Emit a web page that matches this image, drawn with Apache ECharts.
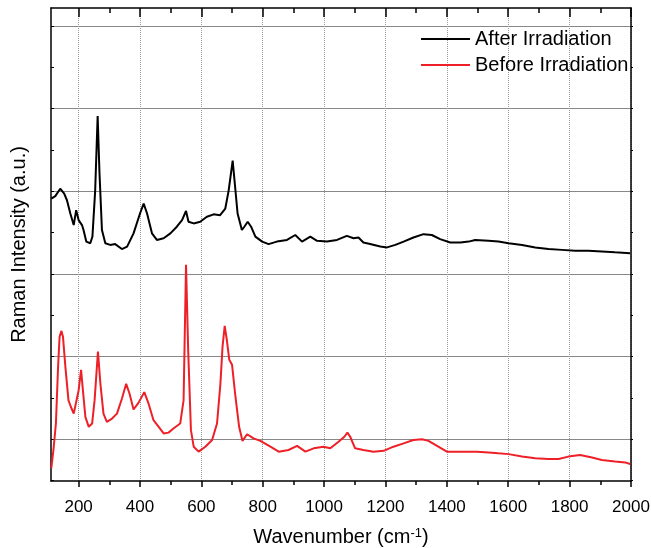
<!DOCTYPE html>
<html>
<head>
<meta charset="utf-8">
<script src="https://cdn.jsdelivr.net/npm/echarts@6/dist/echarts.min.js"></script>
<style>
    html, body { margin: 0; padding: 0; background: #fff; }
    #raman-chart { width: 651px; height: 548px; }
</style>
</head>
<body>
<div id="raman-chart"></div>
<script>
// =============================== //
//
// Raman spectra before / after irradiation
//
// =============================== //

// Series names
const seriesNames = ["After Irradiation", "Before Irradiation"];

// After irradiation: wavenumber (cm-1) and intensity (a.u.)
const afterWavenumber = [111, 124, 140, 153, 162, 173, 184, 192, 200, 211, 216, 225, 238, 245, 254, 262, 268, 276, 287, 303, 319, 341, 358, 379, 400, 412, 423, 439, 455, 477, 499, 520, 537, 550, 558, 575, 596, 618, 640, 661, 678, 689, 702, 710, 718, 732, 740, 751, 762, 776, 798, 819, 846, 879, 906, 928, 955, 977, 1009, 1042, 1074, 1096, 1112, 1128, 1150, 1183, 1205, 1232, 1259, 1291, 1324, 1351, 1378, 1411, 1444, 1471, 1492, 1536, 1568, 1601, 1645, 1688, 1731, 1775, 1818, 1861, 1905, 1948, 1997];
const afterIntensity = [2.91, 2.94, 3.03, 2.97, 2.89, 2.73, 2.59, 2.77, 2.65, 2.59, 2.53, 2.39, 2.37, 2.45, 3.01, 3.91, 3.22, 2.53, 2.37, 2.35, 2.36, 2.30, 2.33, 2.49, 2.73, 2.85, 2.73, 2.49, 2.41, 2.43, 2.49, 2.57, 2.65, 2.76, 2.63, 2.61, 2.63, 2.69, 2.72, 2.71, 2.79, 3.01, 3.37, 3.05, 2.73, 2.53, 2.57, 2.63, 2.57, 2.45, 2.39, 2.36, 2.39, 2.41, 2.47, 2.39, 2.45, 2.40, 2.39, 2.41, 2.46, 2.43, 2.44, 2.38, 2.36, 2.33, 2.32, 2.35, 2.39, 2.44, 2.48, 2.47, 2.42, 2.38, 2.38, 2.39, 2.41, 2.40, 2.39, 2.37, 2.35, 2.32, 2.30, 2.29, 2.28, 2.28, 2.27, 2.26, 2.25];

// Before irradiation: wavenumber (cm-1) and intensity (a.u.)
const beforeWavenumber = [111, 118, 126, 133, 138, 144, 149, 157, 167, 175, 184, 192, 200, 208, 214, 222, 233, 244, 252, 263, 271, 281, 292, 309, 325, 341, 355, 366, 379, 395, 414, 428, 444, 461, 477, 493, 509, 531, 542, 550, 557, 566, 575, 591, 613, 635, 651, 662, 669, 676, 683, 691, 700, 710, 723, 734, 749, 770, 792, 825, 852, 884, 912, 939, 966, 998, 1020, 1047, 1066, 1076, 1085, 1101, 1128, 1161, 1194, 1226, 1259, 1291, 1319, 1340, 1368, 1400, 1433, 1460, 1498, 1536, 1568, 1601, 1645, 1688, 1731, 1764, 1796, 1834, 1873, 1905, 1948, 1981, 1997];
const beforeIntensity = [-0.35, -0.13, 0.19, 0.87, 1.24, 1.31, 1.24, 0.87, 0.47, 0.39, 0.31, 0.45, 0.59, 0.84, 0.59, 0.27, 0.15, 0.19, 0.47, 1.06, 0.67, 0.31, 0.21, 0.25, 0.31, 0.49, 0.67, 0.55, 0.36, 0.44, 0.57, 0.43, 0.23, 0.15, 0.07, 0.08, 0.13, 0.19, 0.47, 2.11, 1.08, 0.11, -0.09, -0.15, -0.09, -0.01, 0.19, 0.67, 1.12, 1.37, 1.20, 0.96, 0.90, 0.55, 0.15, -0.02, 0.06, 0.01, -0.02, -0.09, -0.15, -0.13, -0.08, -0.15, -0.11, -0.09, -0.11, -0.03, 0.03, 0.08, 0.03, -0.11, -0.13, -0.15, -0.14, -0.09, -0.05, -0.01, 0.00, -0.02, -0.08, -0.15, -0.15, -0.15, -0.15, -0.16, -0.17, -0.18, -0.21, -0.23, -0.24, -0.24, -0.21, -0.19, -0.22, -0.25, -0.27, -0.28, -0.30];

// Tick positions
const xMajorTicks = [200, 400, 600, 800, 1000, 1200, 1400, 1600, 1800, 2000];
const xMinorTicks = [300, 500, 700, 900, 1100, 1300, 1500, 1700, 1900];
const yMajorTicks = [0, 1, 2, 3, 4, 5];
const yAllTicks = [-0.5, 0, 0.5, 1, 1.5, 2, 2.5, 3, 3.5, 4, 4.5, 5];

// Pair up x and y arrays for echarts
function zip(xs, ys) {
    return xs.map((x, i) => [x, ys[i]]);
};

const fontName = "'Liberation Sans', Arial, sans-serif";
const xMin = 110;
const xMax = 2000;
const yMin = -0.505;
const yMax = 5.215;

// Helper for extra tick-only x axes
function tickAxis(extra) {
    return Object.assign({
        type: "value",
        min: xMin,
        max: xMax,
        axisLine: { show: false, onZero: false },
        axisLabel: { show: false },
        splitLine: { show: false },
    }, extra);
};

const chartElement = document.getElementById("raman-chart");
const chart = echarts.init(chartElement, null, { renderer: "canvas" });

let option = {
    animation: false,
    textStyle: { fontFamily: fontName },

    // GRID (fixed box, no auto shrinking for names)
    grid: {
        left: 51,
        right: 20,
        top: 8,
        bottom: 67,
        containLabel: false,
        outerBoundsMode: "none",
    },

    // LEGEND
    legend: {
        data: seriesNames,
        orient: "vertical",
        left: 416,
        top: 24,
        icon: "rect",
        itemWidth: 49,
        itemHeight: 2,
        itemGap: 6,
        itemTextGap: 10,
        selectedMode: false,
        textStyle: { fontSize: 20, lineHeight: 20, color: "#000", fontFamily: fontName },
    },

    // XAXIS (bottom main, bottom minor, top main, top minor)
    xAxis: [
        {
            type: "value",
            min: xMin,
            max: xMax,
            name: "{n|Wavenumber (cm}{s|-1}{n|)}",
            nameLocation: "middle",
            nameGap: 46,
            nameTextStyle: {
                rich: {
                    n: { fontSize: 20, color: "#000", fontFamily: fontName },
                    s: { fontSize: 13, color: "#000", fontFamily: fontName, verticalAlign: "top" },
                },
            },
            axisLine: { show: true, onZero: false, lineStyle: { color: "#000", width: 1.5 } },
            axisTick: { show: true, inside: false, length: 6, customValues: xMajorTicks, lineStyle: { color: "#000", width: 1.5 } },
            axisLabel: {
                customValues: xMajorTicks,
                fontSize: 17,
                color: "#000",
                margin: 18,
                fontFamily: fontName,
                formatter: (v) => String(v),
            },
            splitLine: { show: true, lineStyle: { color: "#9a9a9a", width: 1, type: "dotted" } },
        },
        tickAxis({
            position: "bottom",
            axisTick: { show: true, inside: false, length: 4, customValues: xMinorTicks, lineStyle: { color: "#000", width: 1.5 } },
        }),
        tickAxis({
            position: "top",
            axisLine: { show: true, onZero: false, lineStyle: { color: "#000", width: 1.5 } },
            axisTick: { show: true, inside: true, length: 9, customValues: xMajorTicks, lineStyle: { color: "#000", width: 1.5 } },
        }),
        tickAxis({
            position: "top",
            axisTick: { show: true, inside: true, length: 5, customValues: xMinorTicks, lineStyle: { color: "#000", width: 1.5 } },
        }),
    ],

    // YAXIS (left main, left half ticks, right mirror)
    yAxis: [
        {
            type: "value",
            min: yMin,
            max: yMax,
            position: "left",
            name: "Raman Intensity (a.u.)",
            nameLocation: "middle",
            nameGap: 22,
            nameTextStyle: { fontSize: 20, color: "#000", fontFamily: fontName },
            axisLine: { show: true, onZero: false, lineStyle: { color: "#000", width: 1.5 } },
            axisTick: { show: true, inside: true, length: 3, customValues: yMajorTicks, lineStyle: { color: "#000", width: 1 } },
            axisLabel: { show: false },
            splitLine: { show: true, lineStyle: { color: "#888", width: 1.2 } },
        },
        {
            type: "value",
            min: yMin,
            max: yMax,
            position: "left",
            axisLine: { show: false, onZero: false },
            axisTick: { show: true, inside: true, length: 3, customValues: yAllTicks, lineStyle: { color: "#000", width: 1 } },
            axisLabel: { show: false },
            splitLine: { show: false },
        },
        {
            type: "value",
            min: yMin,
            max: yMax,
            position: "right",
            axisLine: { show: true, onZero: false, lineStyle: { color: "#000", width: 1.5 } },
            axisTick: { show: true, inside: false, length: 2, customValues: yAllTicks, lineStyle: { color: "#000", width: 1 } },
            axisLabel: { show: false },
            splitLine: { show: false },
        },
    ],

    // SERIES
    series: [
        {
            name: seriesNames[0],
            type: "line",
            showSymbol: false,
            symbol: "none",
            color: "#000000",
            lineStyle: { width: 2, color: "#000000" },
            data: zip(afterWavenumber, afterIntensity),
            z: 3,
        },
        {
            name: seriesNames[1],
            type: "line",
            showSymbol: false,
            symbol: "none",
            color: "#ee2027",
            lineStyle: { width: 2, color: "#ee2027" },
            data: zip(beforeWavenumber, beforeIntensity),
            z: 3,
        },
    ],
};

chart.setOption(option);
</script>
</body>
</html>
